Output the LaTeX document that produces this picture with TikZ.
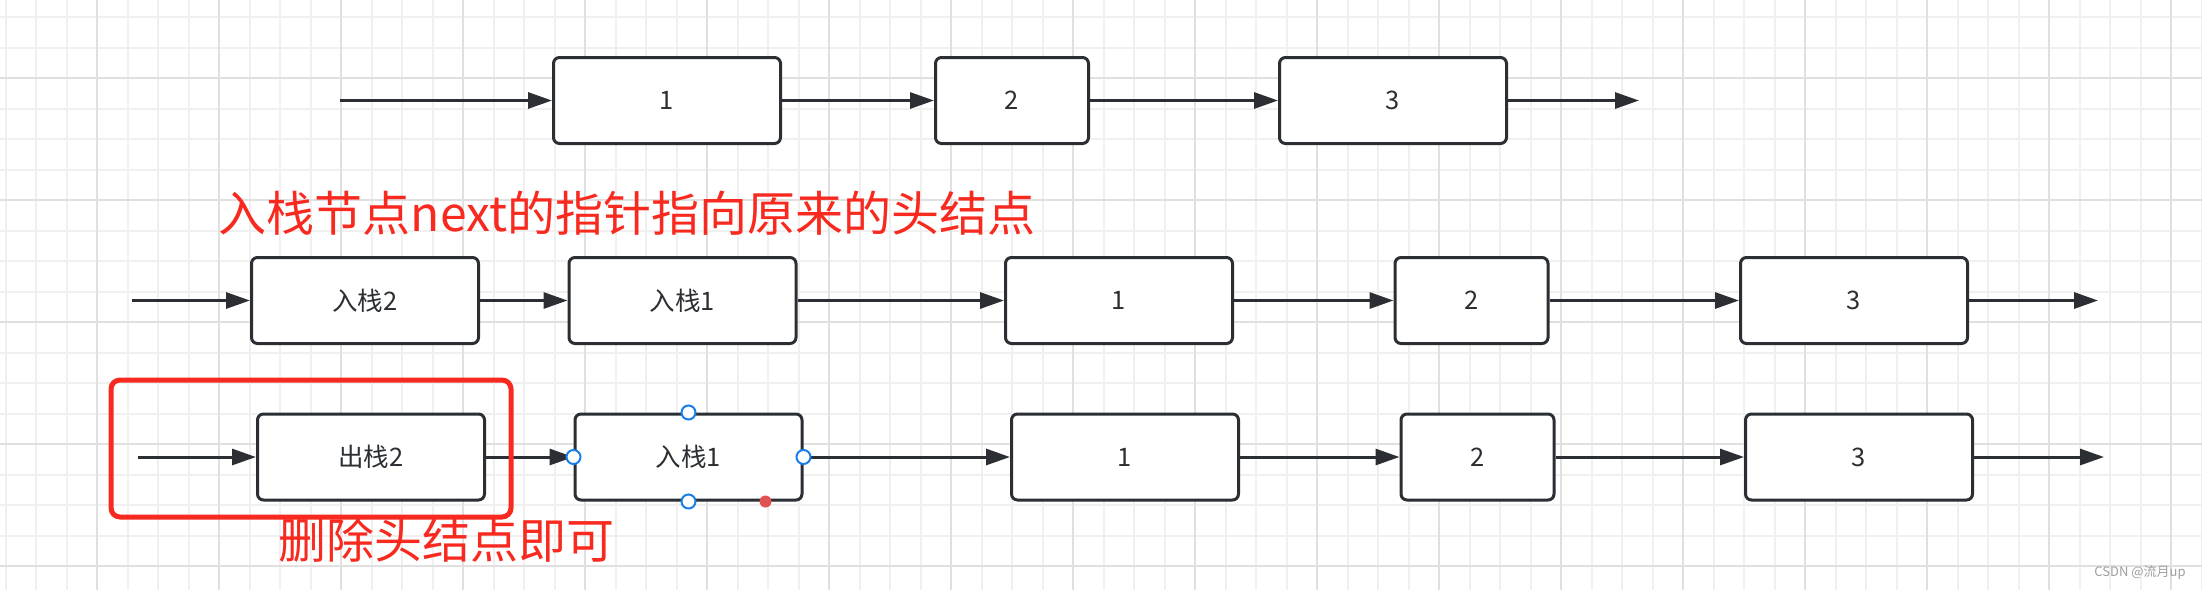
\documentclass[tikz,border=0pt]{standalone}
\usepackage{fontspec}
\newfontfamily\cjk{Noto Sans CJK SC}
\usetikzlibrary{arrows.meta}
\definecolor{ink}{HTML}{2B2F33}
\definecolor{notered}{HTML}{F8291E}
\definecolor{gridminor}{HTML}{F0F0F0}
\definecolor{gridmajor}{HTML}{E0E0E0}
\definecolor{selblue}{HTML}{1A7FE8}
\definecolor{dotred}{HTML}{E05252}
\tikzstyle{box} = [rectangle, draw=ink, fill=white, line width=3pt, rounded corners=6pt, minimum height=86pt, text=ink, font=\cjk\fontsize{25.5pt}{30pt}\selectfont]
\tikzstyle{wide} = [box, minimum width=227pt]
\tikzstyle{narrow} = [box, minimum width=153pt]
\tikzstyle{link} = [->, >={Triangle[length=24pt,width=16pt]}, draw=ink, line width=3pt]
\tikzstyle{note} = [text=notered, inner sep=0pt, font=\cjk\fontsize{48pt}{52pt}\selectfont]
\tikzstyle{handle} = [draw=selblue, fill=white, line width=2pt]

\begin{document}
\begin{tikzpicture}[x=1pt, y=-1pt]
  \useasboundingbox (0,0) rectangle (2202,590);
  \fill[white] (0,0) rectangle (2202,590);

  % 网格
  \foreach \i in {0,...,72} \draw[gridminor, line width=2pt] ({5.5+30.5*\i},0) -- ++(0,590);
  \foreach \j in {0,...,18} \draw[gridminor, line width=2pt] (0,{17+30.5*\j}) -- ++(2202,0);
  \foreach \i in {0,...,17} \draw[gridmajor, line width=2.5pt] ({97+122*\i},0) -- ++(0,590);
  \foreach \j in {0,...,4} \draw[gridmajor, line width=2.5pt] (0,{78+122*\j}) -- ++(2202,0);

  % 原链表
  \coordinate (in1) at (340,100.5);
  \node[wide] (a1) at (667,100.5) {1};
  \node[narrow] (a2) at (1012,100.5) {2};
  \node[wide] (a3) at (1393,100.5) {3};
  \coordinate (out1) at (1639,100.5);

  \draw[link] (in1) -- (a1);
  \draw[link] (a1) -- (a2);
  \draw[link] (a2) -- (a3);
  \draw[link] (a3) -- (out1);

  % 入栈
  \node[note] (push) at (627,213) {入栈节点next的指针指向原来的头结点};

  \coordinate (in2) at (132,300.5);
  \node[wide] (p2) at (365,300.5) {入栈2};
  \node[wide] (p1) at (682.5,300.5) {入栈1};
  \node[wide] (b1) at (1119,300.5) {1};
  \node[narrow] (b2) at (1471.5,300.5) {2};
  \node[wide] (b3) at (1854,300.5) {3};
  \coordinate (out2) at (2098,300.5);

  \draw[link] (in2) -- (p2);
  \draw[link] (p2) -- (p1);
  \draw[link] (p1) -- (b1);
  \draw[link] (b1) -- (b2);
  \draw[link] (b2) -- (b3);
  \draw[link] (b3) -- (out2);

  % 出栈
  \coordinate (in3) at (138,457);
  \node[wide] (q2) at (371,457) {出栈2};
  \node[wide] (q1) at (688.5,457) {入栈1};
  \node[wide] (c1) at (1125,457) {1};
  \node[narrow] (c2) at (1477.5,457) {2};
  \node[wide] (c3) at (1859,457) {3};
  \coordinate (out3) at (2104,457);

  \draw[link] (in3) -- (q2);
  \draw[link] (q2) -- (q1);
  \draw[link] (q1) -- (c1);
  \draw[link] (c1) -- (c2);
  \draw[link] (c2) -- (c3);
  \draw[link] (c3) -- (out3);

  % 选中标记
  \draw[handle] (q1.west) circle (7pt);
  \draw[handle] (q1.east) circle (7pt);
  \draw[handle] (q1.north) circle (7pt);
  \draw[handle] (q1.south) circle (7pt);
  \fill[dotred] ([xshift=77pt]q1.south) circle (6pt);

  \draw[notered, line width=5pt, rounded corners=9pt] (111,380) rectangle (511,517);
  \node[note] (pop) at (446,540) {删除头结点即可};

  \node[text=gray!75, font=\cjk\fontsize{13pt}{15pt}\selectfont] (wm) at (2140,573) {CSDN @流月up};
\end{tikzpicture}
\end{document}
